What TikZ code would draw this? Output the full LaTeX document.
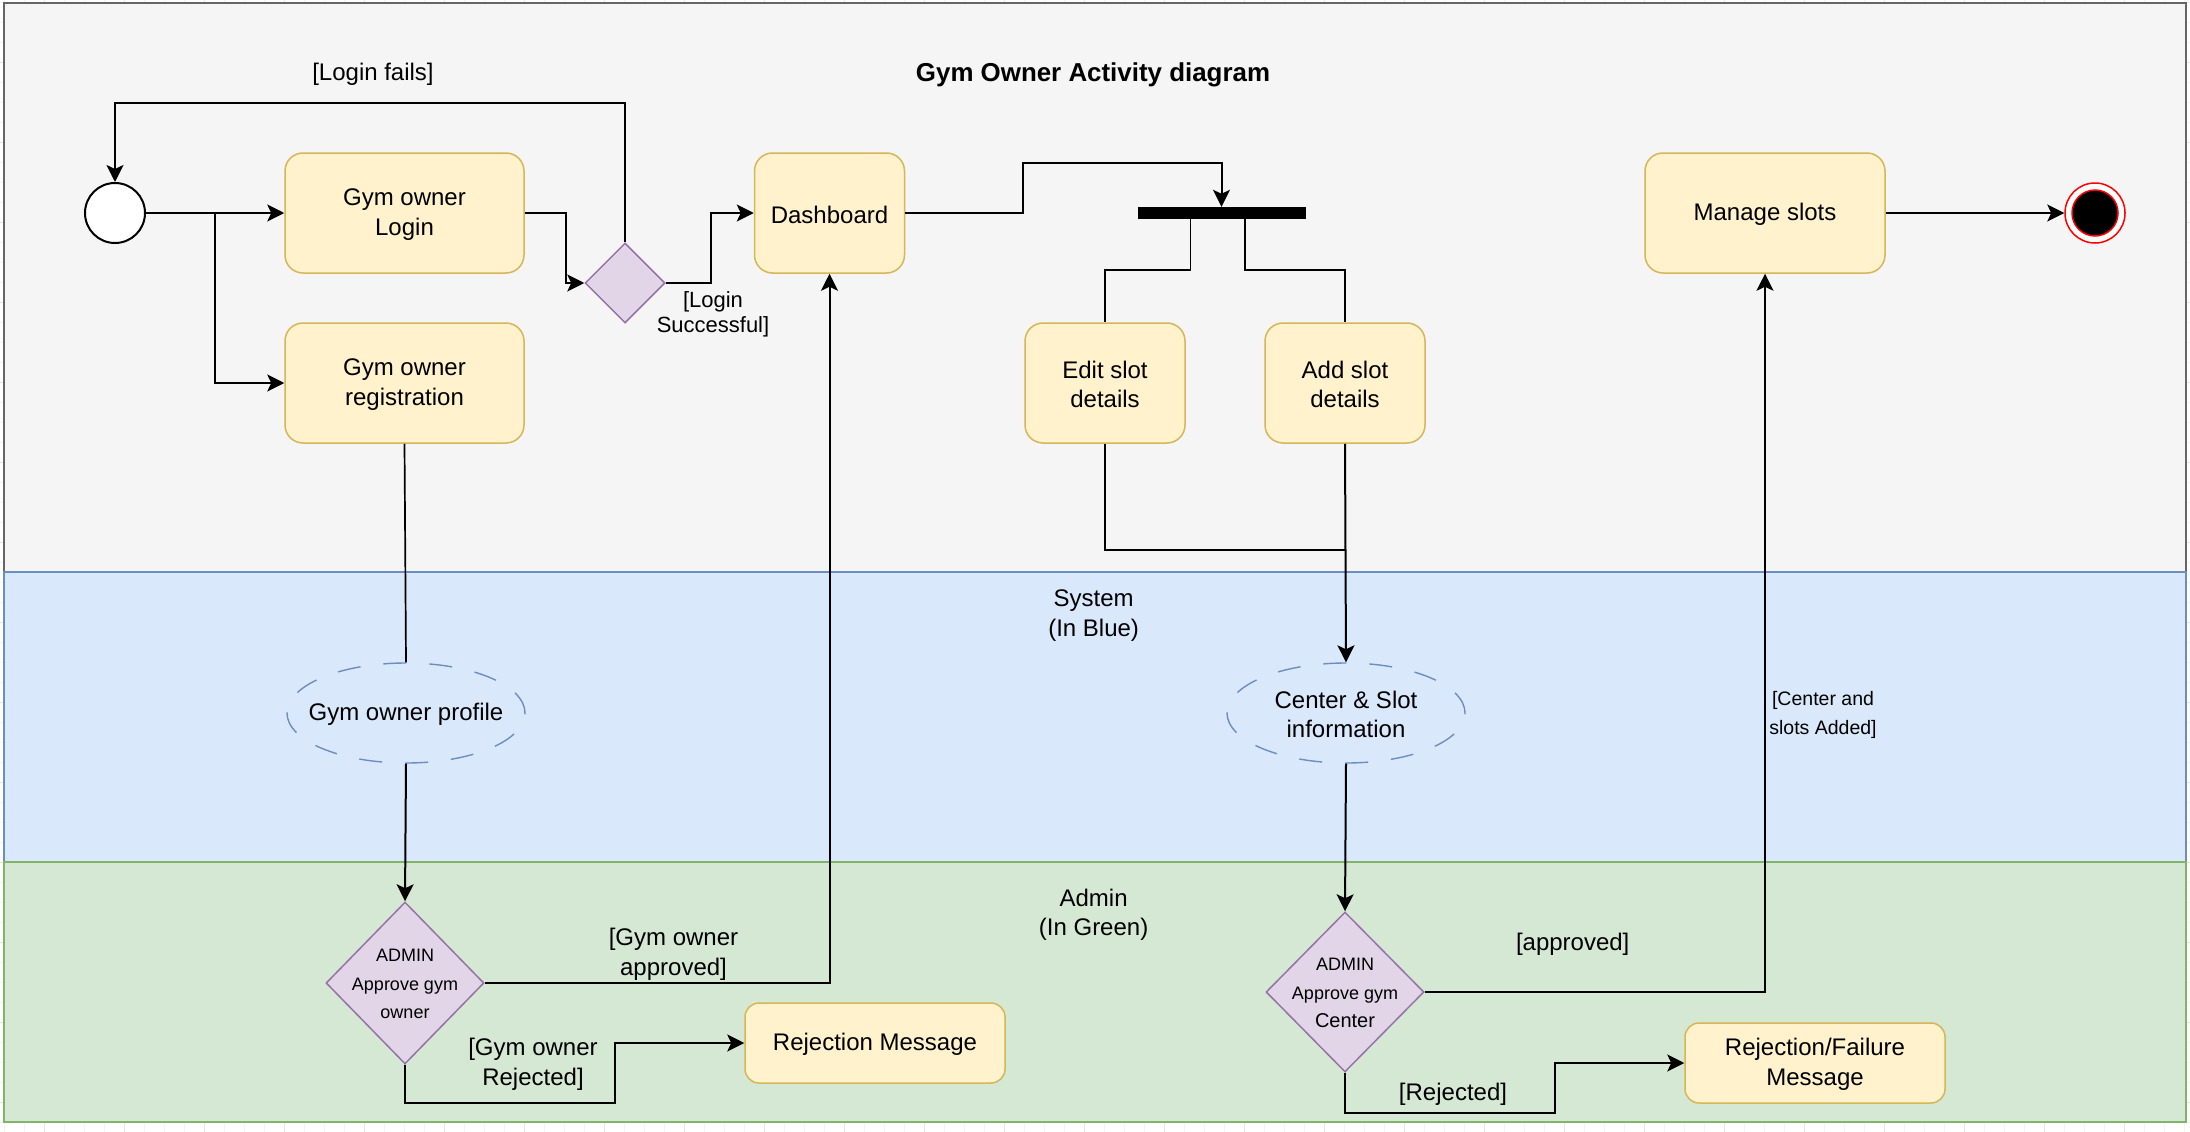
\documentclass[tikz,border=0pt]{standalone}
\usepackage{fontspec}
\setmainfont{Liberation Sans}
\usetikzlibrary{shapes.geometric,arrows.meta,calc}
\definecolor{boxfill}{HTML}{FFF2CC}
\definecolor{boxline}{HTML}{D6B656}
\definecolor{decfill}{HTML}{E1D5E7}
\definecolor{decline}{HTML}{9673A6}
\definecolor{lanegray}{HTML}{F5F5F5}
\definecolor{lanegrayline}{HTML}{666666}
\definecolor{laneblue}{HTML}{DAE8FC}
\definecolor{laneblueline}{HTML}{6C8EBF}
\definecolor{lanegreen}{HTML}{D5E8D4}
\definecolor{lanegreenline}{HTML}{82B366}
\definecolor{gridminor}{HTML}{F3F3F3}
\definecolor{gridmajor}{HTML}{E4E4E4}
\definecolor{endred}{HTML}{FF0000}
\begin{document}
\begin{tikzpicture}[x=1pt,y=-1pt,
  txt/.style={font=\fontsize{24}{29.5}\selectfont, align=center, text=black, inner sep=0pt, yshift=-1.5pt},
  smalltxt/.style={font=\fontsize{19.5}{29}\selectfont, align=center, text=black, inner sep=0pt, yshift=-1.5pt},
  dectxt/.style={font=\fontsize{18}{28.8}\selectfont, align=center, text=black, inner sep=0pt, yshift=-1pt},
  actbox/.style={draw=boxline, fill=boxfill, line width=1.5pt, rounded corners=18pt, minimum width=#1, minimum height=120pt, inner sep=0pt},
  msgbox/.style={draw=boxline, fill=boxfill, line width=1.5pt, rounded corners=14pt, minimum width=260pt, minimum height=80pt, inner sep=0pt},
  decision/.style={shape=diamond, draw=decline, fill=decfill, line width=1.5pt, inner sep=0pt, minimum width=158pt, minimum height=#1},
  objnode/.style={shape=ellipse, draw=laneblueline, fill=laneblue, line width=1.4pt, dash pattern=on 23pt off 23pt, inner sep=0pt, minimum width=238pt, minimum height=100pt},
  conn/.style={draw=black, line width=2pt, -{Stealth[length=17pt,width=17pt,inset=4pt]}},
  plainline/.style={draw=black, line width=1.7pt},
]
\useasboundingbox (0,0) rectangle (2190,1132);
\fill[white] (0,0) rectangle (2190,1132);
% background grid
\foreach \i in {0,...,109} {\draw[gridminor, line width=0.8pt] (4.8+20*\i,0) -- (4.8+20*\i,1132);}
\foreach \j in {0,...,56} {\draw[gridminor, line width=0.8pt] (0,2.7+20*\j) -- (2190,2.7+20*\j);}
\foreach \i in {0,...,27} {\draw[gridmajor, line width=0.8pt] (44.8+80*\i,0) -- (44.8+80*\i,1132);}
\foreach \j in {0,...,13} {\draw[gridmajor, line width=0.8pt] (0,62.7+80*\j) -- (2190,62.7+80*\j);}

% lanes
\draw[fill=lanegray, draw=lanegrayline, line width=2pt] (4,3) rectangle (2186,572);
\draw[fill=laneblue, draw=laneblueline, line width=2pt] (4,572) rectangle (2186,862);
\draw[fill=lanegreen, draw=lanegreenline, line width=2pt] (4,862) rectangle (2186,1122);

% labels of lanes and title
\node[txt, font=\bfseries\fontsize{25.9}{30}\selectfont] (title) at (1093,73) {Gym Owner Activity diagram};
\node[txt] (syslbl) at (1093.6,614) {System\\(In Blue)};
\node[txt] (admlbl) at (1093.6,913.5) {Admin\\(In Green)};

% nodes
\node[circle, draw=black, fill=white, line width=2pt, minimum size=60pt, inner sep=0pt] (start) at (115,213) {};
\node[actbox=239pt, label={[txt]center:Gym owner\\Login}] (login) at (404.5,213) {};
\node[actbox=239pt, label={[txt]center:Gym owner\\registration}] (reg) at (404.5,383) {};
\node[decision=80pt, minimum width=80pt] (d1) at (625,283) {};
\node[actbox=150pt, label={[txt]center:Dashboard}] (dash) at (829.5,213) {};
\node[fill=black, minimum width=168pt, minimum height=12pt, inner sep=0pt] (fork) at (1221.5,213) {};
\node[actbox=160pt, label={[txt]center:Edit slot\\details}] (edit) at (1105,383) {};
\node[actbox=160pt, label={[txt]center:Add slot\\details}] (add) at (1345,383) {};
\node[actbox=240pt, label={[txt]center:Manage slots}] (manage) at (1765,213) {};
\node[circle, draw=endred, fill=white, line width=1.5pt, minimum size=60pt, inner sep=0pt] (endo) at (2095,213) {};
\node[circle, draw=endred, fill=black, line width=1.5pt, minimum size=46pt, inner sep=0pt] (endi) at (2095,213) {};

\node[objnode, label={[txt]center:Gym owner profile}] (prof) at (406,713) {};
\node[objnode, label={[txt]center:Center \& Slot\\information}] (info) at (1346,713) {};

\node[decision=162pt, label={[dectxt]center:ADMIN\\Approve gym\\owner}] (ad1) at (405,983) {};
\node[decision=160pt, label={[dectxt]center:ADMIN\\Approve gym\\{\fontsize{20}{28.8}\selectfont Center}}] (ad2) at (1345,992) {};

\node[msgbox, label={[txt]center:Rejection Message}] (rej1) at (875,1043) {};
\node[msgbox, label={[txt]center:Rejection/Failure\\Message}] (rej2) at (1815,1063) {};

% connectors
\draw[conn] (start.east) -- (login.west);
\coordinate (j1) at (215,213);
\draw[conn] (j1) |- (reg.west);
\draw[conn] (login.east) -- ++(41,0) |- (d1.west);
\coordinate (lf) at (115,103);
\draw[conn] (d1.north) |- (lf) -- (start.north);
\draw[conn] (d1.east) -- ++(45,0) |- (dash.west);
\coordinate (df) at (1022.6,163);
\draw[conn] (dash.east) -| (df) -- (fork.north |- df) -- (fork.north);
\draw[plainline] ($(fork.south)+(-31,0)$) -- ++(0,51) -| (edit.north);
\draw[plainline] ($(fork.south)+(23.5,0)$) -- ++(0,51) -| (add.north);
\draw[plainline] (edit.south) |- ($(add.south)+(0,106)$);
\draw[conn] (add.south) -- (info.north);
\draw[plainline] (reg.south) -- (prof.north);
\draw[conn] (prof.south) -- (ad1.north);
\draw[conn] (ad1.east) -| (dash.south);
\coordinate (r1) at (614.5,1103);
\draw[conn] (ad1.south) |- (r1) |- (rej1.west);
\draw[conn] (info.south) -- (ad2.north);
\draw[conn] (ad2.east) -| (manage.south);
\coordinate (r2) at (1554.6,1112.7);
\draw[conn] (ad2.south) |- (r2) |- (rej2.west);
\draw[conn] (manage.east) -- (endo.west);

% connector labels
\node[txt] (lfails) at (373,73) {[Login fails]};
\node[txt, font=\fontsize{22}{25.5}\selectfont] (lsucc) at (713,313) {[Login\\Successful]};
\node[txt] (lgapp) at (673.5,953) {[Gym owner\\approved]};
\node[txt] (lgrej) at (533,1063) {[Gym owner\\Rejected]};
\node[txt] (lapp) at (1572.7,943) {[approved]};
\node[smalltxt] (ladded) at (1823,713) {[Center and\\slots Added]};
\node[txt] (lrej) at (1453,1092.7) {[Rejected]};
\end{tikzpicture}
\end{document}
